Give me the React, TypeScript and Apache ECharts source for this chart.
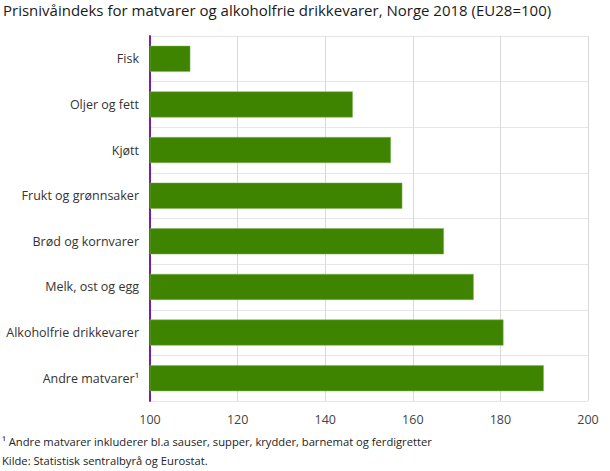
import React, { useEffect, useRef } from "react";
import * as echarts from "echarts";

const categories = [
  "Fisk",
  "Oljer og fett",
  "Kjøtt",
  "Frukt og grønnsaker",
  "Brød og kornvarer",
  "Melk, ost og egg",
  "Alkoholfrie drikkevarer",
  "Andre matvarer¹",
];
const values = [109.2, 146.3, 155.0, 157.6, 167.1, 173.9, 180.7, 189.9];
const axisTicks = [100, 120, 140, 160, 180, 200];

const titleText = "Prisnivåindeks for matvarer og alkoholfrie drikkevarer, Norge 2018 (EU28=100)";
const footnotes = [
  "¹ Andre matvarer inkluderer bl.a sauser, supper, krydder, barnemat og ferdigretter",
  "Kilde: Statistisk sentralbyrå og Eurostat.",
];

const font = "'Open Sans', sans-serif";

export default function App() {
  const chartRef = useRef<HTMLDivElement>(null);

  useEffect(() => {
    document.body.style.margin = "0";
    if (!chartRef.current) return;
    const chart = echarts.init(chartRef.current, undefined, { renderer: "svg" });

    chart.setOption({
      animation: false,
      title: {
        text: titleText,
        left: 3,
        top: 2,
        padding: 0,
        textStyle: {
          fontFamily: font,
          fontSize: 15,
          fontWeight: 500,
          color: "#1a1a1a",
        },
      },
      grid: { left: 150, right: 22, top: 36, bottom: 70 },
      xAxis: {
        type: "value",
        min: axisTicks[0],
        max: axisTicks[axisTicks.length - 1],
        interval: axisTicks[1] - axisTicks[0],
        axisLine: { show: false },
        axisTick: { show: false },
        axisLabel: {
          fontFamily: font,
          fontSize: 12.5,
          color: "#444",
          margin: 12,
        },
        splitLine: { lineStyle: { color: "#d9d9d9", width: 1 } },
      },
      yAxis: {
        type: "category",
        data: categories,
        inverse: true,
        axisLine: { lineStyle: { color: "#7b1fa2", width: 2 } },
        axisTick: { show: false },
        axisLabel: {
          fontFamily: font,
          fontSize: 12.5,
          color: "#333",
          margin: 11,
        },
        splitLine: { show: true, lineStyle: { color: "#e6e6e6", width: 1 } },
      },
      series: [
        {
          type: "bar",
          data: values,
          barCategoryGap: "43%",
          itemStyle: { color: "#3f8400", borderColor: "#7fb25a", borderWidth: 0.5 },
        },
      ],
      graphic: footnotes.map((t, i) => ({
        type: "text",
        left: 2,
        top: 436 + i * 19,
        style: {
          text: t,
          fontFamily: font,
          fontSize: 11.2,
          fill: "#222",
        },
      })),
    });

    return () => chart.dispose();
  }, []);

  return <div ref={chartRef} style={{ width: 610, height: 471 }} />;
}
